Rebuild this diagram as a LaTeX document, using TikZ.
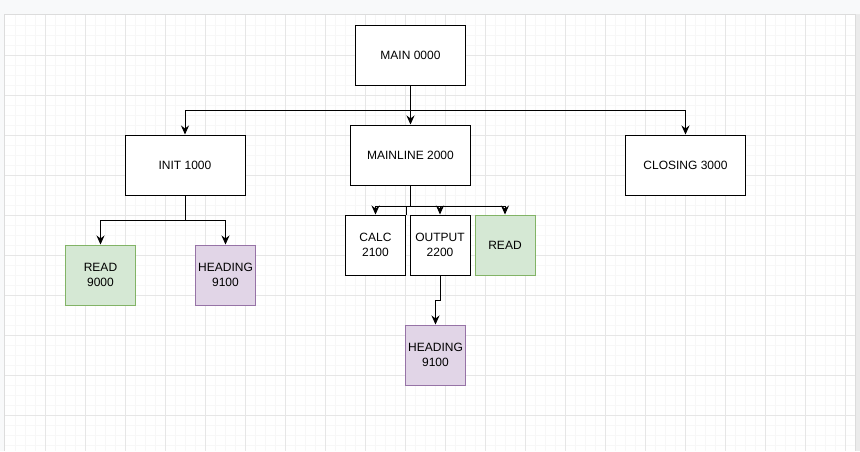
\documentclass[tikz,border=0pt]{standalone}
\usepackage{fontspec}
\setmainfont{Liberation Sans}
\usetikzlibrary{arrows.meta}
\definecolor{pagebg}{HTML}{F8F9FA}
\definecolor{canvasedge}{HTML}{DCDCDC}
\definecolor{shadowgray}{HTML}{EBEBEB}
\definecolor{gridmajor}{HTML}{E6E6E6}
\definecolor{gridminor}{HTML}{F7F7F7}
\definecolor{greenfill}{HTML}{D5E8D4}
\definecolor{greenline}{HTML}{82B366}
\definecolor{purplefill}{HTML}{E1D5E7}
\definecolor{purpleline}{HTML}{9673A6}
\begin{document}
\begin{tikzpicture}[x=1pt,y=-1pt,
  box/.style={draw=black, line width=1pt, fill=white, minimum height=60pt,
    inner sep=0pt, align=center, font=\fontsize{12}{15}\selectfont},
  greenbox/.style={box, fill=greenfill, draw=greenline},
  purplebox/.style={box, fill=purplefill, draw=purpleline},
  conn/.style={line width=1pt, -{Stealth[length=9pt,width=8pt,inset=3pt]}},
  plain/.style={line width=1pt},
  minorline/.style={draw=gridminor, line width=1pt},
  majorline/.style={draw=gridmajor, line width=1pt}]
\useasboundingbox (0,0) rectangle (860,451);
% page and canvas
\fill[pagebg] (0,0) rectangle (860,451);
\fill[white] (4.3,14.3) rectangle (855.3,451);
\foreach \x in {15.3,25.3,...,855} \draw[minorline] (\x,14.8) -- (\x,451);
\foreach \y in {25,35,...,451} \draw[minorline] (4.8,\y) -- (854.8,\y);
\foreach \x in {45.3,85.3,...,855} \draw[majorline] (\x,14.8) -- (\x,451);
\foreach \y in {55,95,...,451} \draw[majorline] (4.8,\y) -- (854.8,\y);
\fill[shadowgray] (855.6,14.3) rectangle (860,451);
\draw[canvasedge, line width=1pt] (4.3,451) -- (4.3,14.3) -- (855.3,14.3) -- (855.3,451);
% nodes
\node[box, minimum width=110pt] (main) at (410.5,55) {MAIN 0000};
\node[box, minimum width=120pt] (init) at (185,165) {INIT 1000};
\node[box, minimum width=120pt] (mainline) at (410.5,155) {MAINLINE 2000};
\node[box, minimum width=120pt] (closing) at (685.5,165) {CLOSING 3000};
\node[greenbox, minimum width=70pt] (read1) at (100.5,275) {READ\\9000};
\node[purplebox, minimum width=60pt] (heading1) at (225.5,275) {HEADING\\9100};
\node[box, minimum width=60pt] (calc) at (375.5,245) {CALC\\2100};
\node[box, minimum width=60pt] (output) at (440,245) {OUTPUT\\2200};
\node[greenbox, minimum width=60pt] (read2) at (505,245) {READ};
\node[purplebox, minimum width=60pt] (heading2) at (435.5,355) {HEADING\\9100};
% connectors
\draw[conn] (main.south) -- ++(0,25) -| (init.north);
\draw[conn] (main.south) -- (mainline.north);
\draw[conn] (main.south) -- ++(0,25) -| (closing.north);
\draw[conn] (init.south) -- ++(0,25) -| (read1.north);
\draw[conn] (init.south) -- ++(0,25) -| (heading1.north);
\draw[conn] (mainline.south) -- ++(0,21) -| (calc.north);
\draw[conn] (mainline.south) -- ++(0,21) -| (output.north);
\draw[conn] (mainline.south) -- ++(0,21) -| (read2.north);
\draw[plain] (calc.north east) -- ++(0,-9);
\draw[conn] (output.south) -- ++(0,25) -| (heading2.north);
\end{tikzpicture}
\end{document}
